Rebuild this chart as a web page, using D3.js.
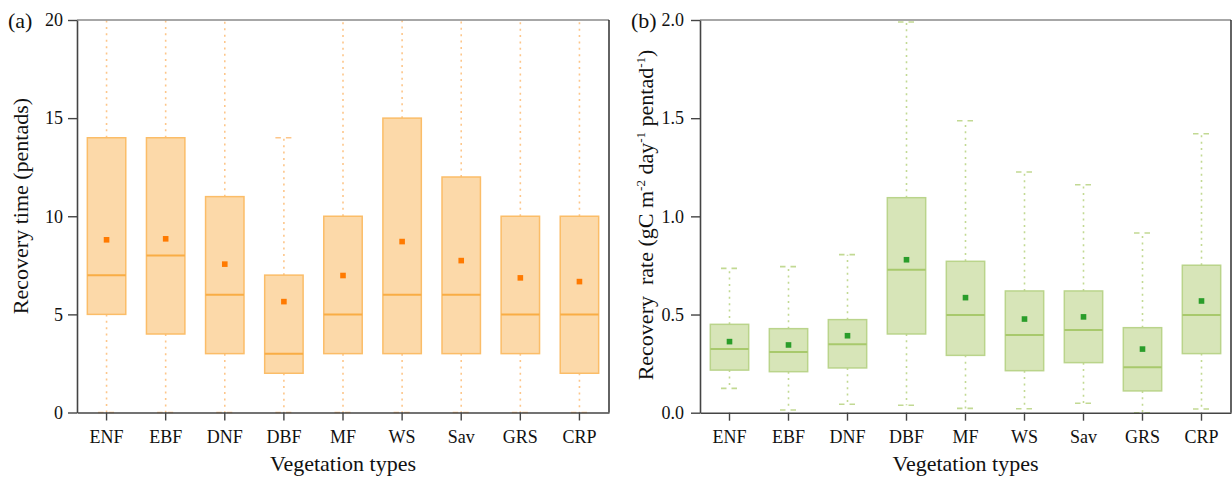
<!DOCTYPE html>
<html>
<head>
<meta charset="utf-8">
<script src="https://cdn.jsdelivr.net/npm/d3@7"></script>
<style>
  body { margin: 0; background: #fff; }
  svg { display: block; }
  svg text { font-family: "Liberation Serif", "Times New Roman", serif; }
</style>
</head>
<body>
<svg width="1232" height="479"></svg>
<script>
// vegetation types
let categories = ['ENF', 'EBF', 'DNF', 'DBF', 'MF', 'WS', 'Sav', 'GRS', 'CRP'];

// (a) recovery time (pentads)
let timeLow    = [0, 0, 0, 0, 0, 0, 0, 0, 0];
let timeQ1     = [5, 4, 3, 2, 3, 3, 3, 3, 2];
let timeMedian = [7, 8, 6, 3, 5, 6, 6, 5, 5];
let timeQ3     = [14, 14, 11, 7, 10, 15, 12, 10, 10];
let timeHigh   = [22, 22, 22, 14, 22, 22, 22, 22, 22];
let timeMean   = [8.8, 8.85, 7.56, 5.65, 6.98, 8.71, 7.74, 6.86, 6.67];
let timeTicks  = [0, 5, 10, 15, 20];

// (b) recovery rate (gC m-2 day-1 pentad-1)
let rateLow    = [0.124, 0.014, 0.043, 0.038, 0.022, 0.02, 0.048, 0.0, 0.019];
let rateQ1     = [0.217, 0.209, 0.228, 0.401, 0.292, 0.214, 0.255, 0.111, 0.301];
let rateMedian = [0.325, 0.309, 0.348, 0.728, 0.498, 0.396, 0.421, 0.231, 0.498];
let rateQ3     = [0.45, 0.428, 0.474, 1.095, 0.771, 0.62, 0.62, 0.433, 0.751];
let rateHigh   = [0.735, 0.744, 0.805, 1.99, 1.487, 1.226, 1.161, 0.915, 1.421];
let rateMean   = [0.362, 0.345, 0.392, 0.779, 0.586, 0.477, 0.488, 0.324, 0.569];
let rateTicks  = [0, 0.5, 1.0, 1.5, 2.0];

let serif = '"Liberation Serif", "Times New Roman", serif';
let svg = d3.select('svg');

function drawPanel(opt) {
    let x = d3.scaleBand()
        .domain(categories)
        .range([opt.left, opt.right]);
    let y = d3.scaleLinear()
        .domain([0, opt.yMax])
        .range([opt.bottom, opt.top]);

    let g = svg.append('g');

    let clipId = 'clip-' + opt.id;
    g.append('clipPath').attr('id', clipId)
        .append('rect')
        .attr('x', opt.left).attr('y', opt.top - 1)
        .attr('width', opt.right - opt.left)
        .attr('height', opt.bottom - opt.top + 3);

    let boxes = categories.map((c, i) => ({
        c: c, low: opt.low[i], q1: opt.q1[i], med: opt.med[i],
        q3: opt.q3[i], high: opt.high[i], mean: opt.mean[i]
    }));

    let plot = g.append('g').attr('clip-path', `url(#${clipId})`);
    let bw = x.bandwidth() * 0.65;
    let cx = d => x(d.c) + x.bandwidth() / 2;

    // whiskers (dotted)
    plot.selectAll('.wh-up').data(boxes).enter().append('line')
        .attr('x1', cx).attr('x2', cx)
        .attr('y1', d => y(d.q3)).attr('y2', d => y(d.high))
        .attr('stroke', opt.whisker).attr('stroke-width', 1.6)
        .attr('stroke-dasharray', '2,4.4');
    plot.selectAll('.wh-down').data(boxes).enter().append('line')
        .attr('x1', cx).attr('x2', cx)
        .attr('y1', d => y(d.q1)).attr('y2', d => y(d.low))
        .attr('stroke', opt.whisker).attr('stroke-width', 1.6)
        .attr('stroke-dasharray', '2,4.4');

    // caps (dashed)
    ['high', 'low'].forEach(k => {
        plot.selectAll('.cap-' + k).data(boxes).enter().append('line')
            .attr('x1', d => cx(d) - 8.5).attr('x2', d => cx(d) + 8.5)
            .attr('y1', d => y(d[k])).attr('y2', d => y(d[k]))
            .attr('stroke', opt.whisker).attr('stroke-width', 1.6)
            .attr('stroke-dasharray', '5.5,5');
    });

    // boxes
    plot.selectAll('.box').data(boxes).enter().append('rect')
        .attr('x', d => cx(d) - bw / 2)
        .attr('width', bw)
        .attr('y', d => y(d.q3))
        .attr('height', d => y(d.q1) - y(d.q3))
        .attr('fill', opt.fill)
        .attr('stroke', opt.stroke)
        .attr('stroke-width', 1.5);

    // median
    plot.selectAll('.med').data(boxes).enter().append('line')
        .attr('x1', d => cx(d) - bw / 2).attr('x2', d => cx(d) + bw / 2)
        .attr('y1', d => y(d.med)).attr('y2', d => y(d.med))
        .attr('stroke', opt.median).attr('stroke-width', 2);

    // mean
    plot.selectAll('.mean').data(boxes).enter().append('rect')
        .attr('x', d => cx(d) - 2.8).attr('y', d => y(d.mean) - 2.8)
        .attr('width', 5.6).attr('height', 5.6)
        .attr('fill', opt.meanColor);

    // frame: top and right
    g.append('line')
        .attr('x1', opt.left).attr('x2', opt.right)
        .attr('y1', opt.top).attr('y2', opt.top)
        .attr('stroke', '#8a8a8a').attr('stroke-width', 1.6);
    g.append('line')
        .attr('x1', opt.right).attr('x2', opt.right)
        .attr('y1', opt.top).attr('y2', opt.bottom)
        .attr('stroke', '#222').attr('stroke-width', 1.4);

    // axes
    let yAxis = d3.axisLeft(y).tickValues(opt.ticks).tickFormat(opt.fmt)
        .tickSize(9).tickSizeOuter(0).tickPadding(opt.yPad);
    let yG = g.append('g').attr('transform', `translate(${opt.left},0)`).call(yAxis);

    let xAxis = d3.axisBottom(x).tickSize(8).tickSizeOuter(0).tickPadding(10);
    let xG = g.append('g').attr('transform', `translate(0,${opt.bottom})`).call(xAxis);

    [yG, xG].forEach(a => {
        a.attr('font-family', serif);
        a.select('.domain').attr('stroke', '#444').attr('stroke-width', 1.6);
        a.selectAll('.tick line').attr('stroke', '#444').attr('stroke-width', 1.4);
        a.selectAll('.tick text')
            .attr('fill', '#111')
            .style('font-family', serif)
            .style('font-size', '18px');
    });

    // panel label
    g.append('text')
        .attr('x', opt.labelX).attr('y', 28)
        .attr('fill', '#111')
        .style('font-family', serif)
        .style('font-size', '22px')
        .text(opt.label);

    // x title
    g.append('text')
        .attr('x', (opt.left + opt.right) / 2).attr('y', 471)
        .attr('text-anchor', 'middle')
        .attr('fill', '#111')
        .style('font-family', serif)
        .style('font-size', '22px')
        .text('Vegetation types');

    return g;
}

let gA = drawPanel({
    id: 'a', left: 77, right: 609, top: 20, bottom: 412.5, yMax: 20,
    low: timeLow, q1: timeQ1, med: timeMedian, q3: timeQ3, high: timeHigh, mean: timeMean,
    ticks: timeTicks, fmt: d3.format('d'), yPad: 5,
    fill: '#fcd9a9', stroke: '#fbbd68', median: '#f9ad45', meanColor: '#ff7a00', whisker: '#fdc68a',
    label: '(a)', labelX: 8
});

gA.append('text')
    .attr('transform', 'translate(28,206) rotate(-90)')
    .attr('text-anchor', 'middle')
    .attr('fill', '#111')
    .style('font-family', serif)
    .style('font-size', '22px')
    .text('Recovery time (pentads)');

let gB = drawPanel({
    id: 'b', left: 700, right: 1231, top: 20, bottom: 412.7, yMax: 2.0,
    low: rateLow, q1: rateQ1, med: rateMedian, q3: rateQ3, high: rateHigh, mean: rateMean,
    ticks: rateTicks, fmt: d3.format('.1f'), yPad: 7,
    fill: '#d7e5b8', stroke: '#bad48b', median: '#a8c96c', meanColor: '#2a9d2a', whisker: '#c2d993',
    label: '(b)', labelX: 631
});

let yt = gB.append('text')
    .attr('transform', 'translate(653,215) rotate(-90)')
    .attr('text-anchor', 'middle')
    .attr('fill', '#111')
    .style('font-family', serif)
    .style('font-size', '22px');
yt.append('tspan').text('Recovery\u00a0 rate (gC m');
yt.append('tspan').attr('dy', -8).style('font-size', '13px').text('-2');
yt.append('tspan').attr('dy', 8).text(' day');
yt.append('tspan').attr('dy', -8).style('font-size', '13px').text('-1');
yt.append('tspan').attr('dy', 8).text(' pentad');
yt.append('tspan').attr('dy', -8).style('font-size', '13px').text('-1');
yt.append('tspan').attr('dy', 8).text(')');
</script>
</body>
</html>
